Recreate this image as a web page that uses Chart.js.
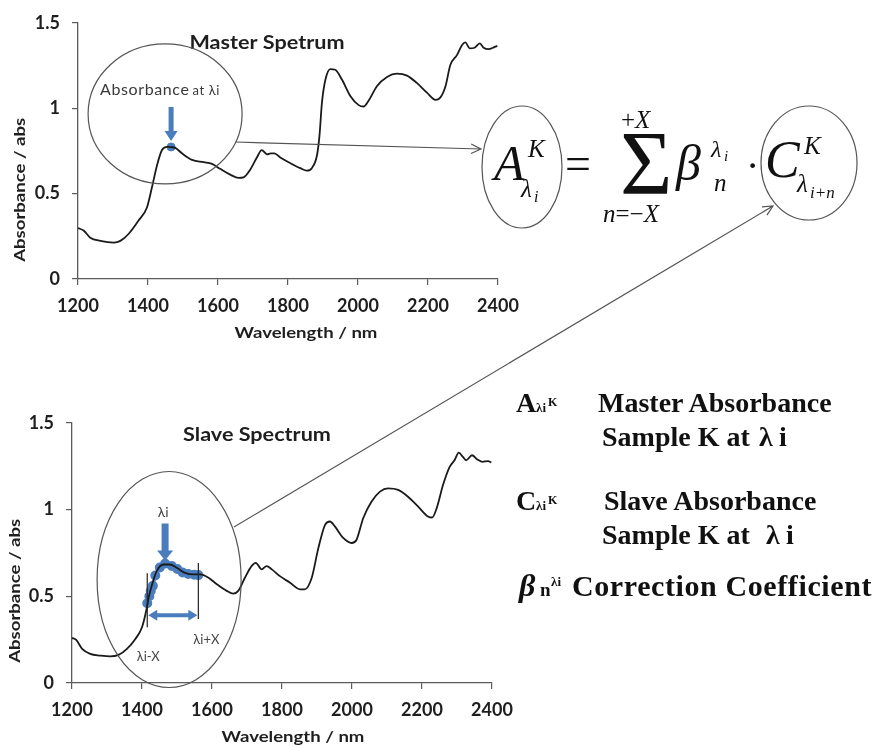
<!DOCTYPE html>
<html>
<head>
<meta charset="utf-8">
<script src="https://cdn.jsdelivr.net/npm/chart.js@4.4.1/dist/chart.umd.min.js"></script>
<style>
html,body{margin:0;padding:0;background:#fff;}
#page{position:relative;width:877px;height:747px;overflow:hidden;background:#fff;}
#c1{position:absolute;left:0;top:0;}
#c2{position:absolute;left:0;top:400px;}
#ov{position:absolute;left:0;top:0;}
</style>
</head>
<body>
<div id="page">
<canvas id="c1" width="540" height="345"></canvas>
<canvas id="c2" width="540" height="347"></canvas>
<svg id="ov" width="877" height="747" xmlns="http://www.w3.org/2000/svg">
  <g id="lines" fill="none" stroke="#555" stroke-width="1.2">
    <ellipse cx="522" cy="167" rx="40" ry="61"/>
    <ellipse cx="809" cy="163" rx="48" ry="57"/>
  </g>
  <g font-family="'Liberation Serif','Times New Roman',serif" font-style="italic" fill="#111">
    <text x="494" y="180" font-size="50">A</text>
    <text x="528" y="157" font-size="25">K</text>
    <text x="521" y="197" font-size="25">λ</text>
    <text x="534" y="202" font-size="16">i</text>
    <text x="565" y="179" font-size="46" font-style="normal">=</text>
    <text x="620" y="194" font-size="90" font-style="normal">Σ</text>
    <text x="621" y="128" font-size="25"><tspan font-style="normal">+</tspan>X</text>
    <text x="603" y="222" font-size="25">n<tspan font-style="normal">=−</tspan>X</text>
    <text x="676" y="180" font-size="50">β</text>
    <text x="711" y="157" font-size="24">λ</text>
    <text x="724" y="161" font-size="15">i</text>
    <text x="714" y="191" font-size="25">n</text>
    <text x="746" y="179" font-size="40" font-style="normal">·</text>
    <text x="765" y="177" font-size="52">C</text>
    <text x="804" y="154" font-size="25">K</text>
    <text x="797" y="192" font-size="25">λ</text>
    <text x="810" y="198" font-size="17">i+n</text>
  </g>
  <g font-family="'Liberation Serif','Times New Roman',serif" font-weight="bold" fill="#111">
    <text x="516" y="412" font-size="28">A</text>
    <text x="536" y="412" font-size="13">λi</text>
    <text x="548" y="406" font-size="12">K</text>
    <text x="598" y="412" font-size="28">Master Absorbance</text>
    <text y="446" font-size="28"><tspan x="602">Sample K at</tspan><tspan x="759">λ</tspan><tspan x="779">i</tspan></text>
    <text x="516" y="510" font-size="28">C</text>
    <text x="536" y="510" font-size="13">λi</text>
    <text x="548" y="504" font-size="12">K</text>
    <text x="604" y="510" font-size="28">Slave Absorbance</text>
    <text y="544" font-size="28"><tspan x="602">Sample K at</tspan><tspan x="766">λ</tspan><tspan x="786">i</tspan></text>
    <text x="519" y="596" font-size="32" font-style="italic">β</text>
    <text x="540" y="596" font-size="19">n</text>
    <text x="551" y="586" font-size="13">λi</text>
    <text x="572" y="596" font-size="30" letter-spacing="0.6">Correction Coefficient</text>
  </g>
</svg>
</div>
<script>
// ---------------- data ----------------
const xTickValues = [1200, 1400, 1600, 1800, 2000, 2200, 2400];
const xTickLabels = ['1200', '1400', '1600', '1800', '2000', '2200', '2400'];
const yTickValues = [0, 0.5, 1, 1.5];
const yTickLabels = ['0', '0.5', '1', '1.5'];

const masterWavelengths = [1200,1216,1235,1264,1302,1321,1345,1373,1397,1411,1426,1440,1454,1466,1478,1497,1526,1559,1583,1606,1635,1659,1673,1692,1711,1725,1740,1751,1761,1778,1807,1835,1854,1868,1883,1890,1897,1907,1921,1935,1954,1978,2002,2016,2030,2054,2083,2111,2140,2168,2197,2221,2235,2250,2264,2283,2297,2307,2319,2333,2348,2359,2373,2388,2398];
const masterAbsorbance = [0.298,0.284,0.242,0.223,0.213,0.223,0.265,0.342,0.419,0.534,0.668,0.755,0.774,0.772,0.768,0.736,0.697,0.684,0.674,0.645,0.611,0.592,0.595,0.640,0.711,0.755,0.730,0.736,0.736,0.711,0.678,0.649,0.634,0.649,0.726,0.841,1.033,1.168,1.229,1.225,1.168,1.072,1.018,1.010,1.043,1.129,1.183,1.202,1.191,1.148,1.091,1.049,1.062,1.129,1.254,1.312,1.369,1.385,1.350,1.354,1.379,1.354,1.346,1.356,1.365];

const masterPointWavelength = [1466];
const masterPointAbsorbance = [0.773];

const slaveWavelengths = [1200,1212,1229,1252,1281,1309,1333,1357,1381,1400,1414,1419,1429,1442,1461,1480,1499,1523,1547,1566,1590,1614,1642,1661,1675,1694,1713,1725,1742,1756,1771,1794,1823,1851,1865,1885,1904,1923,1937,1951,1975,1999,2013,2032,2056,2080,2103,2132,2160,2189,2217,2229,2242,2260,2279,2293,2305,2317,2326,2343,2357,2372,2389,2398];
const slaveAbsorbance = [0.260,0.248,0.197,0.168,0.158,0.153,0.162,0.197,0.254,0.321,0.435,0.492,0.569,0.645,0.683,0.683,0.664,0.635,0.626,0.626,0.607,0.569,0.531,0.515,0.531,0.607,0.674,0.693,0.655,0.674,0.655,0.616,0.578,0.540,0.540,0.607,0.779,0.912,0.931,0.903,0.836,0.807,0.826,0.950,1.046,1.103,1.122,1.113,1.074,1.017,0.960,0.954,1.008,1.141,1.246,1.284,1.328,1.303,1.284,1.313,1.290,1.275,1.279,1.271];

const windowWavelengths = [1415,1421,1425,1431,1438,1451,1466,1485,1501,1516,1532,1549,1561];
const windowAbsorbance = [0.46,0.50,0.53,0.56,0.62,0.666,0.689,0.675,0.657,0.637,0.628,0.624,0.622];
const lambdaI = 1466;

// ---------------- styling ----------------
const FONT = 'Lato, "Open Sans", sans-serif';
const TXT = '#1e1e1e';
const AXIS = '#5a5a5a';
const BLUE = '#4a7dbd';
const ELL = '#555';

function toXY(xs, ys){ return xs.map((v,i)=>({x:v, y:ys[i]})); }

function blockArrowDown(ctx, cx, yTop, yTip, shaftW, headW, headL, color){
  ctx.fillStyle = color;
  ctx.beginPath();
  ctx.moveTo(cx-shaftW/2, yTop);
  ctx.lineTo(cx+shaftW/2, yTop);
  ctx.lineTo(cx+shaftW/2, yTip-headL);
  ctx.lineTo(cx+headW/2, yTip-headL);
  ctx.lineTo(cx, yTip);
  ctx.lineTo(cx-headW/2, yTip-headL);
  ctx.lineTo(cx-shaftW/2, yTip-headL);
  ctx.closePath();
  ctx.fill();
}
function doubleArrowH(ctx, x1, x2, cy, shaftH, headH, headL, color){
  ctx.fillStyle = color;
  ctx.beginPath();
  ctx.moveTo(x1, cy);
  ctx.lineTo(x1+headL, cy-headH/2);
  ctx.lineTo(x1+headL, cy-shaftH/2);
  ctx.lineTo(x2-headL, cy-shaftH/2);
  ctx.lineTo(x2-headL, cy-headH/2);
  ctx.lineTo(x2, cy);
  ctx.lineTo(x2-headL, cy+headH/2);
  ctx.lineTo(x2-headL, cy+shaftH/2);
  ctx.lineTo(x1+headL, cy+shaftH/2);
  ctx.lineTo(x1+headL, cy+headH/2);
  ctx.closePath();
  ctx.fill();
}
// text stretched horizontally (the original's labels are slightly widened)
function stretchedText(ctx, text, cx, cy, font, sx, rot){
  ctx.save();
  ctx.translate(cx, cy);
  if (rot) ctx.rotate(rot);
  ctx.scale(sx, 1);
  ctx.font = font;
  ctx.textAlign = 'center';
  ctx.textBaseline = 'middle';
  ctx.fillText(text, 0, 0);
  ctx.restore();
}

function makeOptions(cfg){
  return {
    responsive:false, animation:false, devicePixelRatio:1,
    layout:{padding:{left:0, top:cfg.padTop, right:cfg.padRight, bottom:0}},
    plugins:{legend:{display:false}, tooltip:{enabled:false}, title:{display:false}},
    scales:{
      x:{
        type:'linear', min:1200, max:2400,
        afterBuildTicks(s){ s.ticks = xTickValues.map(v=>({value:v})); },
        afterFit(s){ s.height = cfg.xHeight; },
        grid:{drawOnChartArea:false, drawTicks:true, tickLength:6, color:AXIS, lineWidth:1.2},
        border:{display:true, color:AXIS, width:1.3},
        ticks:{color:TXT, font:{family:FONT, size:18, weight:'bold'}, padding:10, maxRotation:0, autoSkip:false,
               callback:(v,i)=>xTickLabels[i]},
        title:{display:false}
      },
      y:{
        type:'linear', min:0, max:1.5,
        afterBuildTicks(s){ s.ticks = yTickValues.map(v=>({value:v})); },
        afterFit(s){ s.width = cfg.yWidth; },
        grid:{drawOnChartArea:false, drawTicks:true, tickLength:6, color:AXIS, lineWidth:1.2},
        border:{display:true, color:AXIS, width:1.3},
        ticks:{color:TXT, font:{family:FONT, size:18, weight:'bold'}, padding:12,
               callback:(v,i)=>yTickLabels[i]},
        title:{display:false}
      }
    }
  };
}

function axisTitles(ctx, a, cfg){
  ctx.save();
  ctx.fillStyle = TXT;
  stretchedText(ctx, 'Wavelength / nm', a.left + cfg.xtDx, a.bottom + cfg.xtDy, `bold 16px ${FONT}`, 1.16, 0);
  stretchedText(ctx, 'Absorbance / abs', cfg.ytX, a.top + cfg.ytDy, `bold 16px ${FONT}`, 1.16, -Math.PI/2);
  ctx.restore();
}

const masterAnno = {
  id:'masterAnno',
  afterDatasetsDraw(chart){
    const {ctx, chartArea:a, scales:{x, y}} = chart;
    const px = x.getPixelForValue(masterPointWavelength[0]);
    const py = y.getPixelForValue(masterPointAbsorbance[0]);
    ctx.save();
    ctx.fillStyle = TXT;
    stretchedText(ctx, 'Master Spetrum', a.left + 189, a.top + 20, `bold 18px ${FONT}`, 1.2, 0);
    axisTitles(ctx, a, {xtDx:228, xtDy:54, ytX:20, ytDy:167});
    ctx.strokeStyle = ELL; ctx.lineWidth = 1.2;
    ctx.beginPath(); ctx.ellipse(px - 6, py - 33, 77, 70, 0, 0, Math.PI*2); ctx.stroke();
    ctx.fillStyle = '#3a3a3a'; ctx.textAlign = 'left'; ctx.textBaseline = 'alphabetic';
    ctx.font = `16px ${FONT}`;
    ctx.letterSpacing = '0.6px';
    ctx.fillText('Absorbance', px - 71, py - 52);
    const w = ctx.measureText('Absorbance').width;
    ctx.font = `13px ${FONT}`;
    ctx.fillText('at λi', px - 71 + w + 3, py - 52);
    ctx.letterSpacing = '0px';
    blockArrowDown(ctx, px, py - 40, py - 6, 5, 13, 10, BLUE);
    ctx.restore();
  }
};

const slaveAnno = {
  id:'slaveAnno',
  afterDatasetsDraw(chart){
    const {ctx, chartArea:a, scales:{x, y}} = chart;
    const n = windowWavelengths.length;
    const xs = windowWavelengths.map(v=>x.getPixelForValue(v));
    const ys = windowAbsorbance.map(v=>y.getPixelForValue(v));
    const k = windowWavelengths.indexOf(lambdaI);
    const px = xs[k], py = ys[k];
    ctx.save();
    ctx.fillStyle = TXT;
    stretchedText(ctx, 'Slave Spectrum', a.left + 185, a.top + 12, `bold 18px ${FONT}`, 1.2, 0);
    axisTitles(ctx, a, {xtDx:221, xtDy:54, ytX:15, ytDy:168});
    ctx.strokeStyle = ELL; ctx.lineWidth = 1.2;
    ctx.beginPath(); ctx.ellipse(px + 4, py + 16, 72, 108, 0, 0, Math.PI*2); ctx.stroke();
    // bracket lines
    ctx.strokeStyle = '#222'; ctx.lineWidth = 1.2;
    ctx.beginPath();
    ctx.moveTo(xs[0], ys[0] - 30); ctx.lineTo(xs[0], ys[0] + 24);
    ctx.moveTo(xs[n-1], ys[n-1] - 12); ctx.lineTo(xs[n-1], ys[n-1] + 44);
    ctx.stroke();
    doubleArrowH(ctx, xs[0] + 1, xs[n-1] - 1, ys[0] + 12, 4, 11, 9, BLUE);
    blockArrowDown(ctx, px, py - 40, py - 3, 7, 16, 10, BLUE);
    ctx.fillStyle = '#444';
    ctx.textAlign = 'center'; ctx.textBaseline = 'middle';
    ctx.font = `14px ${FONT}`;
    ctx.fillText('λi', px - 2, py - 51);
    ctx.font = `13px ${FONT}`;
    ctx.fillText('λi-X', xs[0] + 1, ys[0] + 54);
    ctx.fillText('λi+X', xs[n-1] + 8, ys[n-1] + 65);
    ctx.restore();
  }
};

new Chart(document.getElementById('c1'), {
  type:'line',
  data:{datasets:[
    {data:toXY(masterWavelengths, masterAbsorbance), borderColor:'#1a1a1a', borderWidth:1.8, pointRadius:0, cubicInterpolationMode:'monotone', fill:false},
    {data:toXY(masterPointWavelength, masterPointAbsorbance), borderColor:BLUE, backgroundColor:BLUE, pointRadius:4, showLine:false}
  ]},
  options:makeOptions({padTop:19, padRight:42, xHeight:66, yWidth:78}),
  plugins:[masterAnno]
});

new Chart(document.getElementById('c2'), {
  type:'line',
  data:{datasets:[
    {data:toXY(slaveWavelengths, slaveAbsorbance), borderColor:'#1a1a1a', borderWidth:1.8, pointRadius:0, cubicInterpolationMode:'monotone', fill:false},
    {data:toXY(windowWavelengths, windowAbsorbance), borderColor:BLUE, backgroundColor:BLUE, borderWidth:3, pointRadius:3.5, showLine:true, cubicInterpolationMode:'monotone'}
  ]},
  options:makeOptions({padTop:21, padRight:48, xHeight:64, yWidth:72}),
  plugins:[slaveAnno]
});

// connector lines with open arrowheads (annotation overlay)
(function(){
  const g = document.getElementById('lines');
  function arrow(x1, y1, x2, y2){
    const ang = Math.atan2(y2 - y1, x2 - x1), L = 11, s = 0.45;
    const a1 = [x2 - L*Math.cos(ang - s), y2 - L*Math.sin(ang - s)];
    const a2 = [x2 - L*Math.cos(ang + s), y2 - L*Math.sin(ang + s)];
    const p = document.createElementNS('http://www.w3.org/2000/svg', 'path');
    p.setAttribute('d', `M${x1} ${y1} L${x2} ${y2} M${a1[0]} ${a1[1]} L${x2} ${y2} L${a2[0]} ${a2[1]}`);
    g.appendChild(p);
  }
  arrow(235, 142, 481, 149);
  arrow(234, 527, 773, 206);
})();
</script>
</body>
</html>
